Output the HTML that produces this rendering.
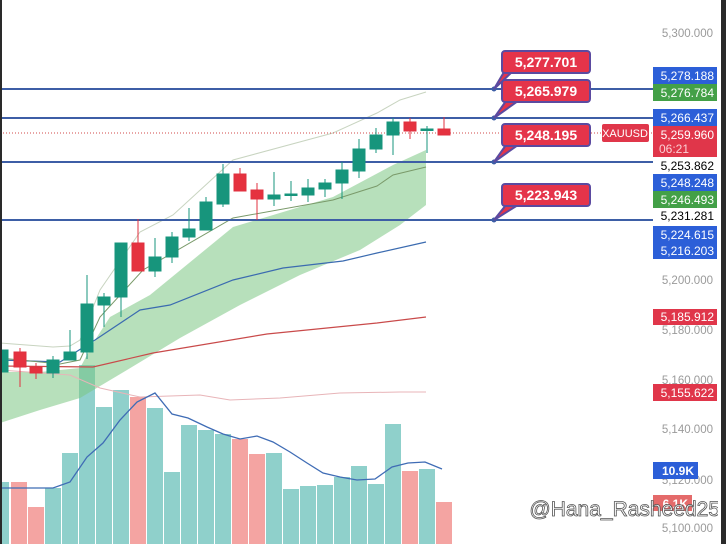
<!DOCTYPE html>
<html><head><meta charset="utf-8"><style>
html,body{margin:0;padding:0;background:#fff;}
svg{display:block;font-family:"Liberation Sans",sans-serif;}
</style></head><body>
<svg width="726" height="544" viewBox="0 0 726 544" xmlns="http://www.w3.org/2000/svg">
<rect width="726" height="544" fill="#fff"/>
<g>
<rect x="0" y="482" width="9" height="62" fill="#8fd0cb"/>
<rect x="11" y="482" width="16" height="62" fill="#f4a4a2"/>
<rect x="28" y="507" width="16" height="37" fill="#f4a4a2"/>
<rect x="45" y="488" width="16" height="56" fill="#8fd0cb"/>
<rect x="62" y="453" width="16" height="91" fill="#8fd0cb"/>
<rect x="79" y="365" width="16" height="179" fill="#8fd0cb"/>
<rect x="96" y="407" width="16" height="137" fill="#8fd0cb"/>
<rect x="113" y="390" width="16" height="154" fill="#8fd0cb"/>
<rect x="130" y="397" width="16" height="147" fill="#f4a4a2"/>
<rect x="147" y="408" width="16" height="136" fill="#8fd0cb"/>
<rect x="164" y="472" width="16" height="72" fill="#8fd0cb"/>
<rect x="181" y="425" width="16" height="119" fill="#8fd0cb"/>
<rect x="198" y="430" width="16" height="114" fill="#8fd0cb"/>
<rect x="215" y="434" width="16" height="110" fill="#8fd0cb"/>
<rect x="232" y="439" width="16" height="105" fill="#f4a4a2"/>
<rect x="249" y="454" width="16" height="90" fill="#f4a4a2"/>
<rect x="266" y="453" width="16" height="91" fill="#8fd0cb"/>
<rect x="283" y="489" width="16" height="55" fill="#8fd0cb"/>
<rect x="300" y="486" width="16" height="58" fill="#8fd0cb"/>
<rect x="317" y="485" width="16" height="59" fill="#8fd0cb"/>
<rect x="334" y="477" width="16" height="67" fill="#8fd0cb"/>
<rect x="351" y="466" width="16" height="78" fill="#8fd0cb"/>
<rect x="368" y="484" width="16" height="60" fill="#8fd0cb"/>
<rect x="385" y="424" width="16" height="120" fill="#8fd0cb"/>
<rect x="402" y="471" width="16" height="73" fill="#f4a4a2"/>
<rect x="419" y="469" width="16" height="75" fill="#8fd0cb"/>
<rect x="436" y="502" width="16" height="42" fill="#f4a4a2"/>
</g>
<path d="M0,372 L40,372 L80,368 L95,340 L110,317 L150,295 L233,227 L333,197 L393,165 L426,150 L426,205 L400,225 L360,250 L300,275 L240,305 L180,338 L127,370 L80,398 L40,410 L0,423 Z" fill="#7cc784" fill-opacity="0.55"/>
<polyline fill="none" stroke="#e8b4b8" stroke-width="1" points="0,370 70,375 100,388 140,397 200,395 230,400 280,398 340,393 400,392 426,392"/>
<polyline fill="none" stroke="#c94a4a" stroke-width="1.2" points="0,366 93,367 153,353 267,334 377,323 426,317"/>
<polyline fill="none" stroke="#3b6bb0" stroke-width="1.2" points="0,360 60,362 95,340 140,310 170,305 233,280 283,268 343,261 377,253 426,242"/>
<polyline fill="none" stroke="#7a9a6a" stroke-width="1" points="0,358 60,364 80,360 100,317 143,270 233,218 333,200 377,186 393,175 426,167"/>
<polyline fill="none" stroke="#c8d4c0" stroke-width="1" points="0,343 53,347 70,346 80,340 100,290 140,232 173,215 233,160 333,133 377,113 400,100 426,92"/>
<polyline fill="none" stroke="#3f6cb5" stroke-width="1.3" points="0,488 53,488 70,482 87,457 103,443 120,420 137,402 155,393 172,414 188,418 207,427 223,434 240,439 257,436 273,442 290,452 307,463 323,473 340,477 357,480 375,479 392,467 408,463 425,462 442,469"/>
<g stroke="#3d5ea6" stroke-width="2">
<line x1="0" y1="89" x2="653" y2="89"/>
<line x1="0" y1="118" x2="653" y2="118"/>
<line x1="0" y1="162" x2="653" y2="162"/>
<line x1="0" y1="220" x2="653" y2="220"/>
</g>
<line x1="0" y1="133" x2="653" y2="133" stroke="#d04a4a" stroke-width="1" stroke-dasharray="1,2"/>
<g stroke-width="1">
<g stroke="#17957c" fill="#17957c">
<rect x="0" y="350" width="8" height="22"/>
<line x1="53" y1="356" x2="53" y2="378"/><rect x="47" y="360" width="12" height="13"/>
<line x1="70" y1="330" x2="70" y2="360"/><rect x="64" y="352" width="12" height="8"/>
<line x1="87" y1="275" x2="87" y2="359"/><rect x="81" y="304" width="12" height="48"/>
<line x1="104" y1="293" x2="104" y2="327"/><rect x="98" y="297" width="12" height="8"/>
<line x1="121" y1="243" x2="121" y2="317"/><rect x="115" y="243" width="12" height="54"/>
<line x1="155" y1="238" x2="155" y2="277"/><rect x="149" y="257" width="12" height="14"/>
<line x1="172" y1="232" x2="172" y2="263"/><rect x="166" y="237" width="12" height="20"/>
<line x1="189" y1="208" x2="189" y2="241"/><rect x="183" y="229" width="12" height="8"/>
<line x1="206" y1="197" x2="206" y2="230"/><rect x="200" y="202" width="12" height="28"/>
<line x1="223" y1="164" x2="223" y2="207"/><rect x="217" y="174" width="12" height="30"/>
<line x1="274" y1="172" x2="274" y2="206"/><rect x="268" y="195" width="12" height="4"/>
<line x1="291" y1="181" x2="291" y2="201"/><rect x="285" y="194" width="12" height="1.5"/>
<line x1="308" y1="179" x2="308" y2="202"/><rect x="302" y="188" width="12" height="7"/>
<line x1="325" y1="179" x2="325" y2="197"/><rect x="319" y="183" width="12" height="6"/>
<line x1="342" y1="162" x2="342" y2="199"/><rect x="336" y="170" width="12" height="13"/>
<line x1="359" y1="139" x2="359" y2="178"/><rect x="353" y="149" width="12" height="22"/>
<line x1="376" y1="128" x2="376" y2="153"/><rect x="370" y="135" width="12" height="14"/>
<line x1="393" y1="118" x2="393" y2="155"/><rect x="387" y="122" width="12" height="13"/>
<line x1="427" y1="126" x2="427" y2="153"/><rect x="421" y="129" width="12" height="1.5"/>
</g>
<g stroke="#e0303f" fill="#e5323f">
<line x1="20" y1="348" x2="20" y2="387"/><rect x="14" y="352" width="12" height="15"/>
<line x1="36" y1="363" x2="36" y2="379"/><rect x="30" y="367" width="12" height="6"/>
<line x1="138" y1="219" x2="138" y2="271"/><rect x="132" y="243" width="12" height="28"/>
<line x1="240" y1="168" x2="240" y2="191"/><rect x="234" y="174" width="12" height="17"/>
<line x1="257" y1="183" x2="257" y2="220"/><rect x="251" y="190" width="12" height="9"/>
<line x1="410" y1="118" x2="410" y2="139"/><rect x="404" y="122" width="12" height="9"/>
<line x1="444" y1="117" x2="444" y2="135"/><rect x="438" y="129" width="12" height="6"/>
</g>
</g>
<g>
<g fill="#3d5ea6"><circle cx="494" cy="89" r="2.5"/><circle cx="494" cy="118" r="2.5"/><circle cx="494" cy="162" r="2.5"/><circle cx="494" cy="220" r="2.5"/></g>
<g fill="#e5344a" stroke="#5b4aa0" stroke-width="2">
<path d="M494,89 L512,72 L504,72 Z"/>
<path d="M494,118 L518,101 L506,101 Z"/>
<path d="M494,162 L518,145 L506,145 Z"/>
<path d="M494,220 L518,205 L506,205 Z"/>
<rect x="502" y="51" width="88" height="22" rx="3"/>
<rect x="502" y="80" width="88" height="22" rx="3"/>
<rect x="502" y="124" width="88" height="22" rx="3"/>
<rect x="502" y="184" width="88" height="22" rx="3"/>
</g>
<g fill="#fff" font-weight="bold" font-size="14" text-anchor="middle">
<text x="546" y="67">5,277.701</text>
<text x="546" y="96">5,265.979</text>
<text x="546" y="140">5,248.195</text>
<text x="546" y="200">5,223.943</text>
</g>
</g>
<rect x="602" y="124" width="47" height="18" rx="2" fill="#e0364a"/>
<text x="625" y="137" fill="#fff" font-size="11" text-anchor="middle">XAUUSD</text>
<g fill="#9a9a9a" font-size="11.5" text-anchor="end">
<text x="713" y="37">5,300.000</text>
<text x="713" y="284">5,200.000</text>
<text x="713" y="334">5,180.000</text>
<text x="713" y="384">5,160.000</text>
<text x="713" y="433">5,140.000</text>
<text x="713" y="484">5,120.000</text>
<text x="713" y="532">5,100.000</text>
</g>
<g>
<rect x="653" y="67" width="64" height="17" fill="#2c5fd8"/>
<rect x="653" y="84" width="64" height="17" fill="#43a047"/>
<rect x="653" y="109" width="64" height="17" fill="#2c5fd8"/>
<rect x="653" y="126" width="64" height="31" fill="#e0364a"/>
<rect x="653" y="174" width="64" height="17" fill="#2c5fd8"/>
<rect x="653" y="191" width="64" height="17" fill="#43a047"/>
<rect x="653" y="226" width="64" height="33" fill="#2c5fd8"/>
<rect x="653" y="309" width="64" height="16" fill="#e0364a"/>
<rect x="653" y="384" width="64" height="17" fill="#e0364a"/>
<rect x="653" y="462" width="45" height="17" fill="#2c5fd8"/>
<rect x="653" y="495" width="39" height="16" fill="#e46a6a"/>
</g>
<g fill="#fff" font-size="12" text-anchor="end">
<text x="714" y="80">5,278.188</text>
<text x="714" y="97">5,276.784</text>
<text x="714" y="122">5,266.437</text>
<text x="714" y="139">5,259.960</text>
<text x="714" y="187">5,248.248</text>
<text x="714" y="204">5,246.493</text>
<text x="714" y="239">5,224.615</text>
<text x="714" y="255">5,216.203</text>
<text x="714" y="321">5,185.912</text>
<text x="714" y="397">5,155.622</text>
<text x="694" y="475" font-weight="bold">10.9K</text>
<text x="688" y="508" font-weight="bold">6.1K</text>
</g>
<text x="659" y="153" fill="#fbd0d4" font-size="12">06:21</text>
<g fill="#000" font-size="12" text-anchor="end">
<text x="714" y="170">5,253.862</text>
<text x="714" y="220">5,231.281</text>
</g>
<text x="720" y="516" font-size="21" text-anchor="end" fill="#fff" stroke="#555" stroke-width="0.8">@Hana_Rasheed25</text>
<rect x="0" y="0" width="2" height="544" fill="#2a2a2a"/>
<rect x="721" y="0" width="5" height="544" fill="#2a2a2a"/>
<rect x="718" y="0" width="3" height="544" fill="#fff"/>
</svg>
</body></html>
